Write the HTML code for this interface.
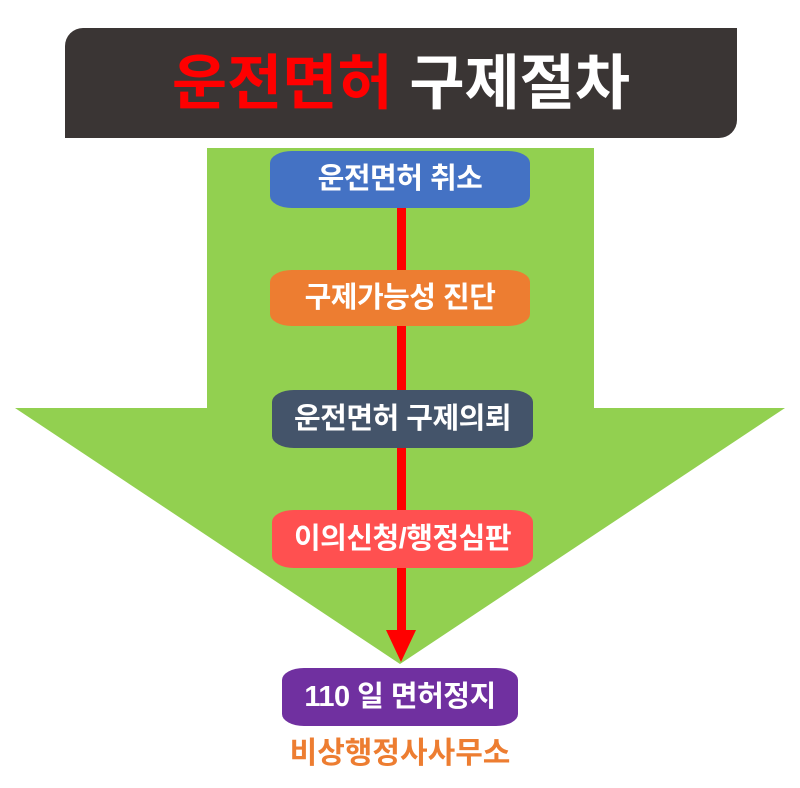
<!DOCTYPE html>
<html><head><meta charset="utf-8"><style>
html,body{margin:0;padding:0;background:#fff;}
body{width:800px;height:788px;position:relative;overflow:hidden;font-family:"Liberation Sans","Noto Sans CJK KR",sans-serif;}
.title{position:absolute;left:65px;top:28px;width:672px;height:110px;background:#3a3534;border-radius:18px 0 18px 0;text-align:center;line-height:112px;font-size:60px;font-weight:bold;color:#fff;}
.title span{color:#ff0000;}
.box{position:absolute;color:#fff;font-weight:bold;font-size:29px;text-align:center;border-radius:22px / 12px;letter-spacing:-0.5px;}
.foot{position:absolute;left:0;width:800px;top:728px;text-align:center;color:#ed7d31;font-size:30px;font-weight:bold;}
</style></head><body>
<div class="title"><span>운전면허</span> 구제절차</div>
<svg width="800" height="788" style="position:absolute;left:0;top:0">
<polygon points="207,148 594,148 594,408 785,408 400,664 15,408 207,408" fill="#92d050"/>
<rect x="397" y="205" width="9" height="430" fill="#ff0000"/>
<polygon points="386,630 416,630 401,662" fill="#ff0000"/>
</svg>
<div class="box" style="left:270px;top:151px;width:260px;height:57px;line-height:57px;background:#4472c4;">운전면허 취소</div>
<div class="box" style="left:270px;top:270px;width:260px;height:56px;line-height:56px;background:#ed7d31;">구제가능성 진단</div>
<div class="box" style="left:272px;top:390px;width:261px;height:58px;line-height:58px;background:#44546a;">운전면허 구제의뢰</div>
<div class="box" style="left:272px;top:510px;width:261px;height:58px;line-height:58px;background:#ff5050;">이의신청/행정심판</div>
<div class="box" style="left:282px;top:668px;width:236px;height:58px;line-height:58px;background:#7030a0;">110 일 면허정지</div>
<div class="foot">비상행정사사무소</div>
</body></html>
